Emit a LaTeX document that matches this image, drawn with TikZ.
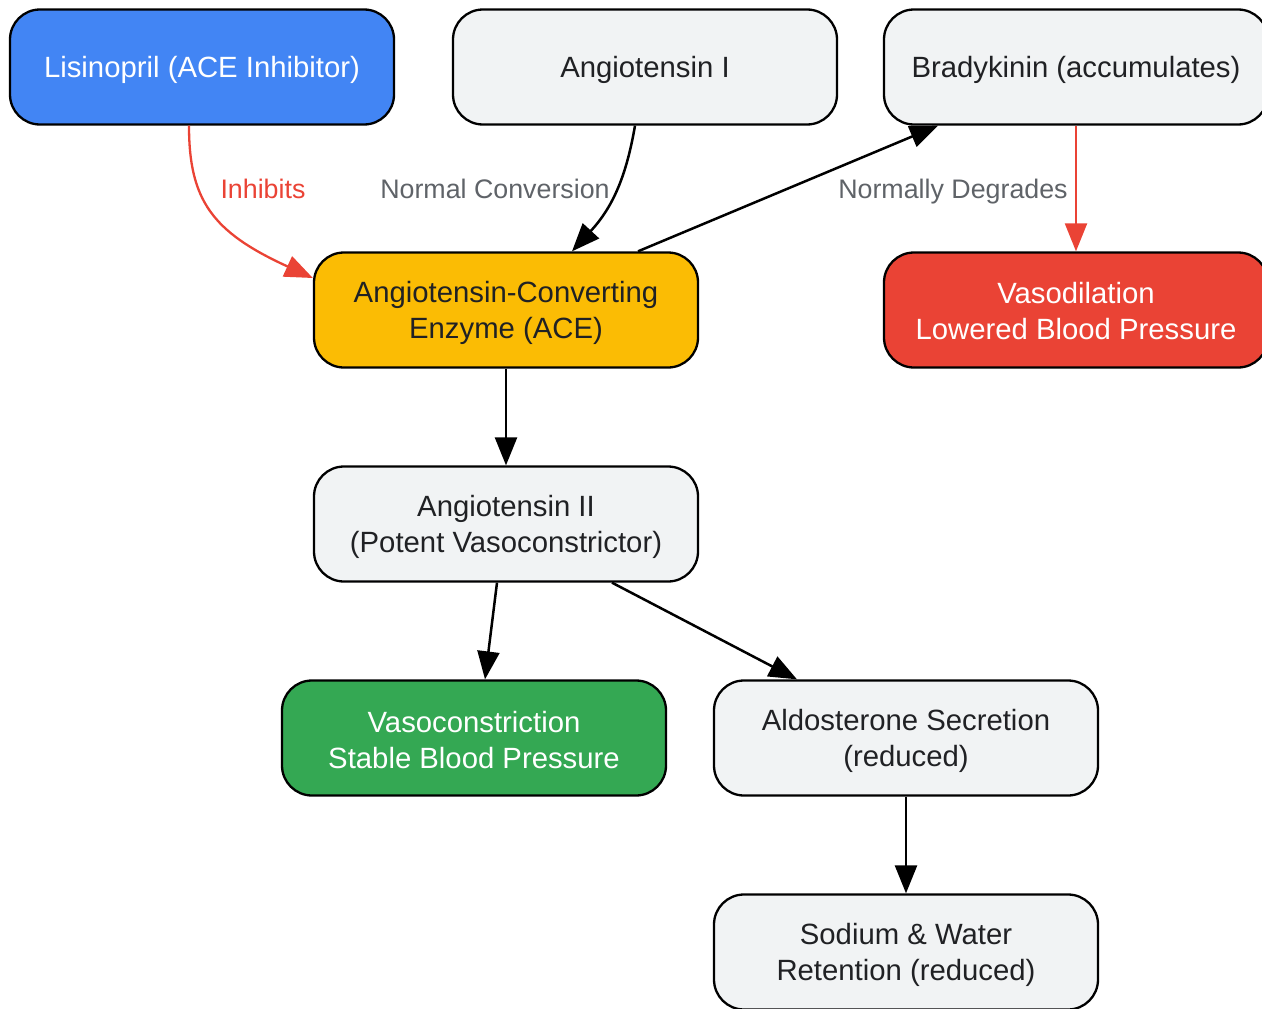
\documentclass[tikz,border=0pt]{standalone}
\usepackage{fontspec}
\setmainfont{Liberation Sans}
\usetikzlibrary{arrows.meta}
\definecolor{gblue}{HTML}{4285F4}
\definecolor{ggray}{HTML}{F1F3F4}
\definecolor{gyellow}{HTML}{FBBC04}
\definecolor{gred}{HTML}{EA4335}
\definecolor{ggreen}{HTML}{34A853}
\definecolor{txt}{HTML}{202124}
\definecolor{lbl}{HTML}{5F6368}
\begin{document}
\begin{tikzpicture}[x=1pt,y=-1pt,
  box/.style={draw=black, line width=2.3pt, rounded corners=30pt, minimum width=384pt,
    minimum height=115pt, inner sep=0pt},
  grey/.style={box, fill=ggray},
  tx/.style={align=center, font=\fontsize{29.3}{36}\selectfont, text=txt, inner sep=0pt},
  wtx/.style={tx, text=white},
  arr/.style={line width=2.5pt, -{Triangle[length=28pt,width=22pt]}},
  redarr/.style={line width=2.3pt, draw=gred, -{Triangle[length=28pt,width=22pt]}},
  elabel/.style={font=\fontsize{26.8}{30}\selectfont, text=lbl, anchor=base}]
\useasboundingbox (0,0) rectangle (1262,1009);

\node[box, fill=gblue] (lis) at (202,67) {};
\node[grey] (ang1) at (645,67) {};
\node[grey] (brady) at (1076,67) {};
\node[box, fill=gyellow] (ace) at (506,310) {};
\node[box, fill=gred] (vasod) at (1076,310) {};
\node[grey] (ang2) at (506,524) {};
\node[box, fill=ggreen] (vasoc) at (474,738) {};
\node[grey] (aldo) at (906,738) {};
\node[grey] (sod) at (906,952) {};

\node[wtx] (lis-t) at ([yshift=-2.5pt]lis.center) {Lisinopril (ACE Inhibitor)};
\node[tx] (ang1-t) at ([yshift=-2.5pt]ang1.center) {Angiotensin I};
\node[tx] (brady-t) at ([yshift=-2.5pt]brady.center) {Bradykinin (accumulates)};
\node[tx] (ace-t) at ([yshift=-2.5pt]ace.center) {Angiotensin-Converting\\Enzyme (ACE)};
\node[wtx] (vasod-t) at ([yshift=-1pt]vasod.center) {Vasodilation\\Lowered Blood Pressure};
\node[tx] (ang2-t) at ([yshift=-2.5pt]ang2.center) {Angiotensin II\\(Potent Vasoconstrictor)};
\node[wtx] (vasoc-t) at ([yshift=-2.5pt]vasoc.center) {Vasoconstriction\\Stable Blood Pressure};
\node[tx] (aldo-t) at ([yshift=-2.5pt]aldo.center) {Aldosterone Secretion\\(reduced)};
\node[tx] (sod-t) at ([yshift=-2.5pt]sod.center) {Sodium \& Water\\Retention (reduced)};

\draw[redarr] ([xshift=-13pt]lis.south) .. controls (189,200) and (212,232) .. ([yshift=32pt]ace.west);
\node[elabel, text=gred] (linh) at (263,198.5) {Inhibits};

\draw[arr] ([xshift=-10pt]ang1.south) .. controls (626,178) and (612,208) .. ([xshift=66pt]ace.north);
\node[elabel] (lnorm) at (495,198.5) {Normal Conversion};

\draw[arr] ([xshift=132pt]ace.north) -- ([xshift=-138pt]brady.south);
\node[elabel] (ldeg) at (953,198.5) {Normally Degrades};

\draw[redarr] (brady.south) -- (vasod.north);
\draw[arr] (ace.south) -- (ang2.north);
\draw[arr] ([xshift=-9pt]ang2.south) -- ([xshift=11pt]vasoc.north);
\draw[arr] ([xshift=106pt]ang2.south) -- ([xshift=-109pt]aldo.north);
\draw[arr] (aldo.south) -- (sod.north);
\end{tikzpicture}
\end{document}
